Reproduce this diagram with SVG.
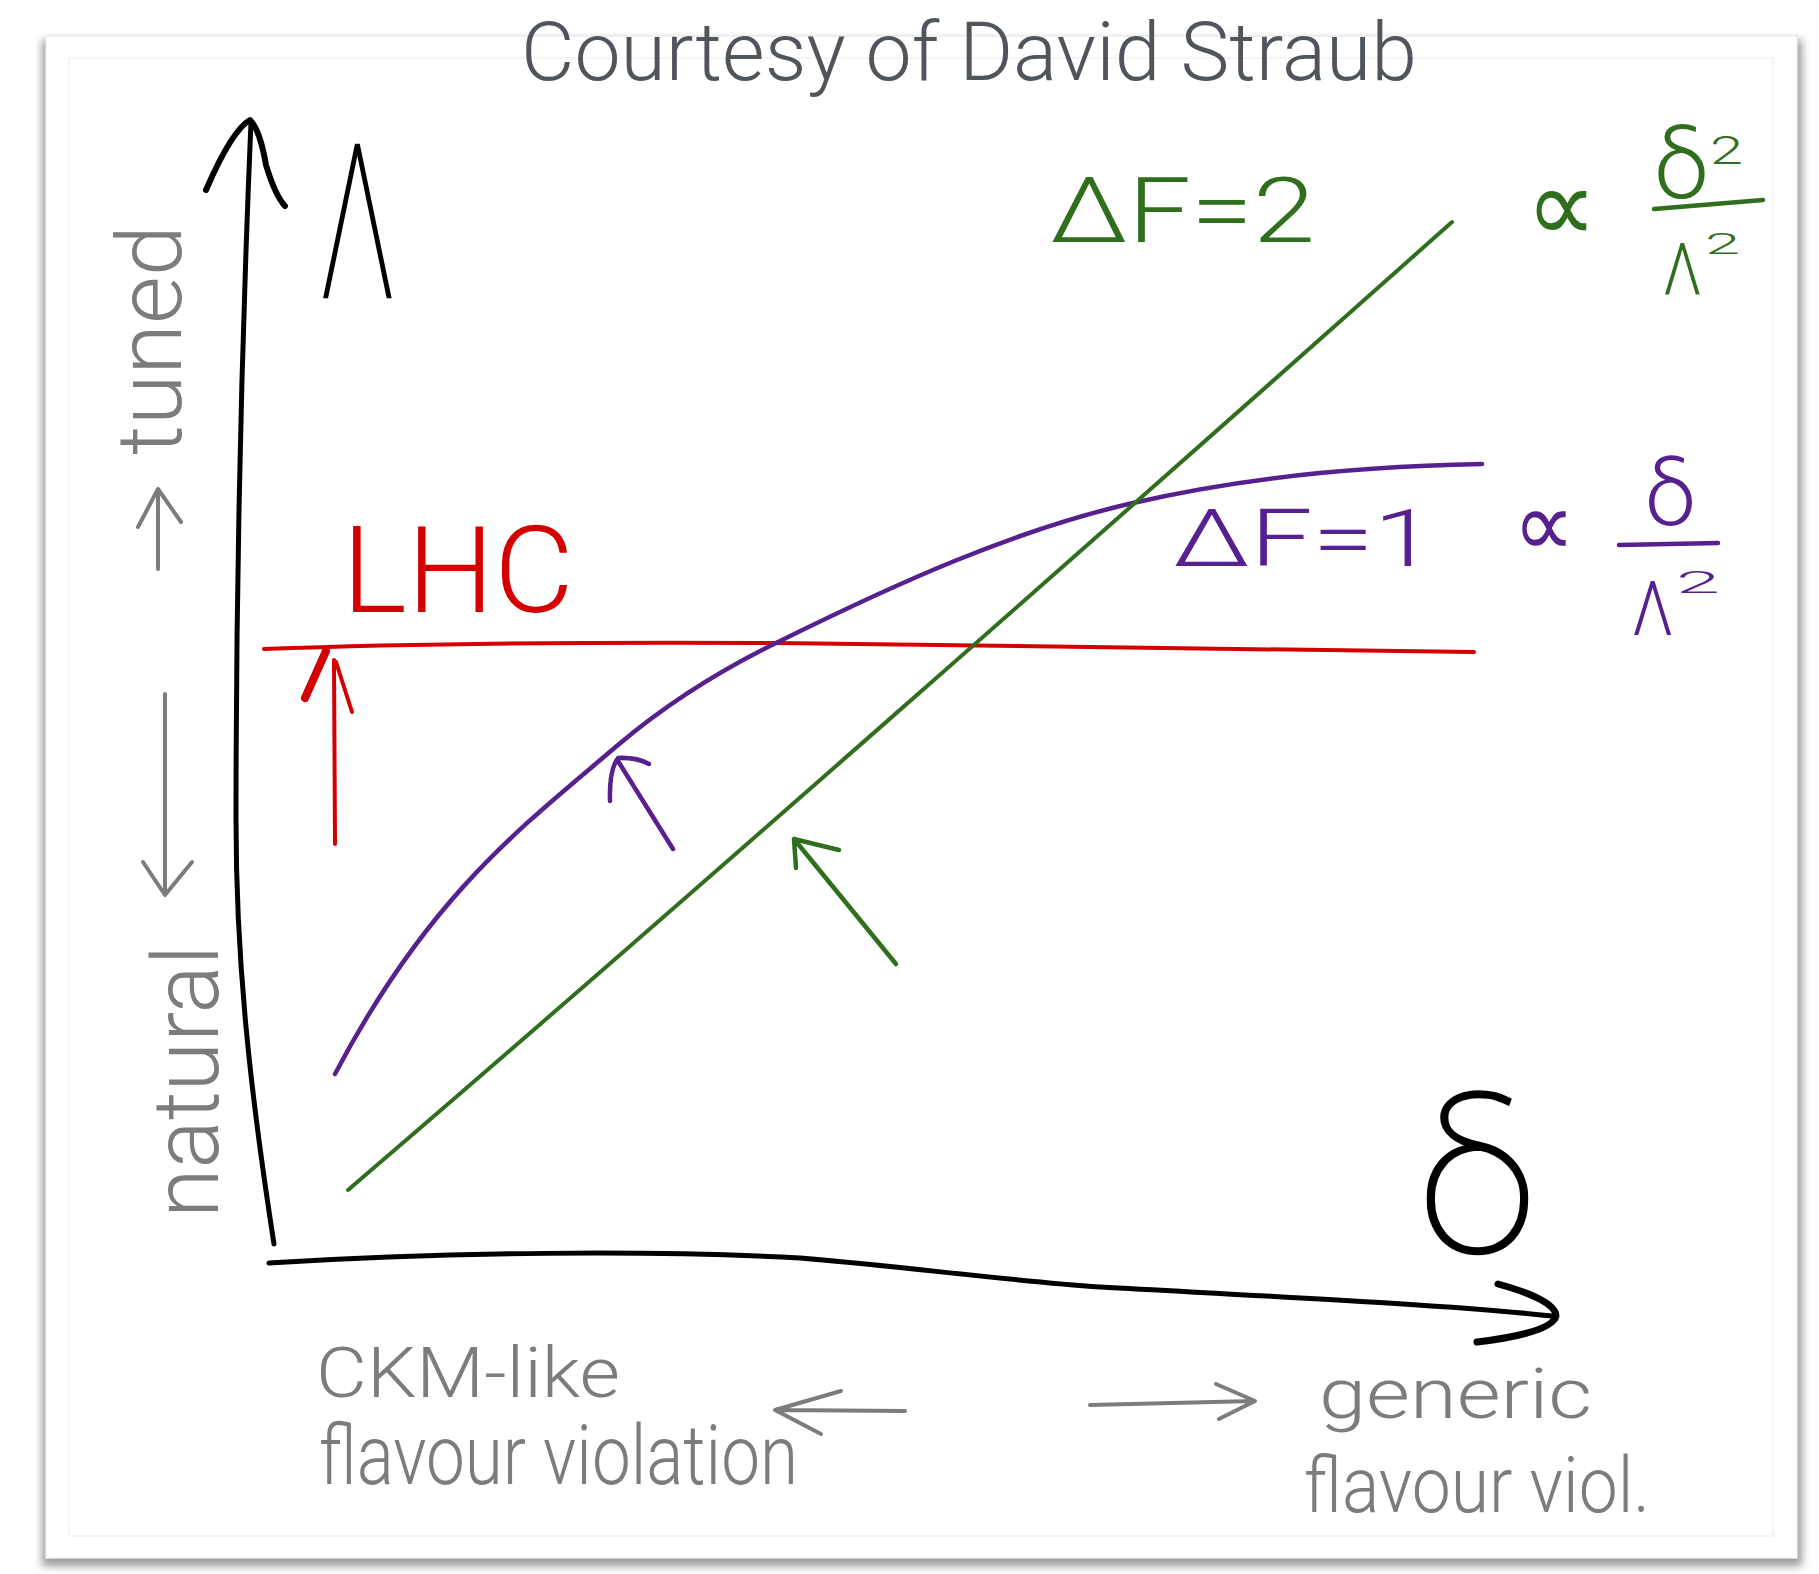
<svg xmlns="http://www.w3.org/2000/svg" width="1819" height="1574" viewBox="0 0 1819 1574">
<defs>
<filter id="sh" x="-5%" y="-5%" width="110%" height="110%"><feGaussianBlur stdDeviation="4"/></filter>
<style>
.t{font-family:Roboto,"DejaVu Sans",sans-serif;}
.sym{font-family:"DejaVu Sans",sans-serif;}
.thin{font-weight:100;}
.light{font-weight:300;}
.ln{fill:none;stroke-linecap:round;stroke-linejoin:round;}
.k{stroke:#000;}
.gr{stroke:#2f6e1c;}
.pu{stroke:#57208f;}
.rd{stroke:#d40000;}
.gy{stroke:#7c7c7c;}
.fg{fill:#2f6e1c;}
.fp{fill:#57208f;}
.fr{fill:#d40000;}
.fk{fill:#000;}
.fy{fill:#7c7c7c;}
</style>
</defs>
<rect width="1819" height="1574" fill="#fff"/>
<g id="frame">
<rect x="42" y="40" width="1760" height="1526" fill="#9a9a9a" filter="url(#sh)"/>
<rect x="46" y="36" width="1751" height="1522" fill="#fff" stroke="#ececec" stroke-width="1.5"/>
<rect x="69" y="58" width="1704" height="1478" fill="none" stroke="#f2f2f2" stroke-width="1.5"/>
</g>
<g id="title">
<text class="t light" x="521" y="80" font-size="82" fill="#50555c" textLength="896" lengthAdjust="spacingAndGlyphs">Courtesy of David Straub</text>
</g>
<g id="y-axis">
<path class="ln k" stroke-width="5" d="M274,1244 C250,1090 236,960 236,820 C236,620 240,380 251,122"/>
<path class="ln k" stroke-width="6" d="M206,190 Q232,130 250,120 Q260,130 266,165 Q275,195 285,206"/>
</g>
<g id="x-axis">
<path class="ln k" stroke-width="5" d="M269,1263 C450,1252 650,1250 800,1258 C900,1266 1000,1280 1100,1287 C1300,1298 1450,1305 1552,1316"/>
<path class="ln k" stroke-width="7" d="M1498,1284 Q1556,1300 1556,1316 Q1552,1333 1477,1342"/>
</g>
<g id="label-lambda">
<text class="t thin fk" stroke="#000" stroke-width="2.5" x="319" y="297" font-size="214" textLength="77" lengthAdjust="spacingAndGlyphs">Λ</text>
</g>
<g id="label-delta">
<text class="t thin fk" stroke="#000" stroke-width="2.5" x="1419" y="1252" font-size="210" textLength="117" lengthAdjust="spacingAndGlyphs">δ</text>
</g>
<g id="label-tuned">
<text class="t light fy" transform="translate(181,455) rotate(-90)" font-size="90" textLength="230" lengthAdjust="spacingAndGlyphs">tuned</text>
</g>
<g id="label-natural">
<text class="t light fy" transform="translate(218,1218) rotate(-90)" font-size="92" textLength="273" lengthAdjust="spacingAndGlyphs">natural</text>
</g>
<g id="lhc">
<path class="ln rd" stroke-width="4" d="M264,649 C400,644 600,642 776,643 C900,644 1100,648 1474,652"/>
<text class="t light fr" x="342" y="612" font-size="120" textLength="232" lengthAdjust="spacingAndGlyphs">LHC</text>
</g>
<g id="curve-df1">
<path class="ln pu" stroke-width="4.5" d="M335,1074 C429,895 524,825 618,745 C671,700 723,669 776,643 C895,584 1014,530 1133,503 C1249,476 1366,466 1482,464"/>
<text class="t light fp" x="1173" y="566" font-size="80" textLength="262" lengthAdjust="spacingAndGlyphs">ΔF=1</text>
<text class="sym fp" x="1513" y="556" font-size="92" textLength="62" lengthAdjust="spacingAndGlyphs">∝</text>
<text class="t light fp" x="1645" y="525" font-size="90" textLength="51" lengthAdjust="spacingAndGlyphs">δ</text>
<path class="ln pu" stroke-width="4.5" d="M1619,545 L1718,543"/>
<text class="t light fp" transform="translate(1632,635) scale(1,1.2)" font-size="64">Λ</text>
<text class="t light fp" x="1676" y="593" font-size="31" textLength="44" lengthAdjust="spacingAndGlyphs">2</text>
</g>
<g id="curve-df2">
<path class="ln gr" stroke-width="4" d="M348,1190 C640,940 1100,535 1452,222"/>
<text class="t light fg" x="1050" y="242" font-size="90" textLength="265" lengthAdjust="spacingAndGlyphs">ΔF=2</text>
<text class="sym fg" x="1526" y="242" font-size="105" textLength="71" lengthAdjust="spacingAndGlyphs">∝</text>
<text class="t light fg" font-size="96"><tspan x="1654" y="198" textLength="55" lengthAdjust="spacingAndGlyphs">δ</tspan><tspan x="1710" y="164" font-size="38" textLength="33" lengthAdjust="spacingAndGlyphs">2</tspan></text>
<path class="ln gr" stroke-width="4.5" d="M1654,209 L1763,200"/>
<text class="t light fg" transform="translate(1663,295) scale(1,1.2)" font-size="60">Λ</text>
<text class="t light fg" x="1705" y="254" font-size="30" textLength="35" lengthAdjust="spacingAndGlyphs">2</text>
</g>
<g id="x-labels">
<text class="t light fy" x="316" y="1397" font-size="70" textLength="304" lengthAdjust="spacingAndGlyphs">CKM-like</text>
<text class="t light fy" x="319" y="1484" font-size="84" textLength="479" lengthAdjust="spacingAndGlyphs">flavour violation</text>
<text class="t light fy" x="1319" y="1418" font-size="70" textLength="273" lengthAdjust="spacingAndGlyphs">generic</text>
<text class="t light fy" x="1304" y="1512" font-size="78" textLength="346" lengthAdjust="spacingAndGlyphs">flavour viol.</text>
</g>
<g id="connectors">
<path class="ln rd" stroke-width="4" d="M335,844 L334,660 M336,662 L352,712"/>
<path class="ln rd" stroke-width="8" d="M305,698 L326,651"/>
<path class="ln pu" stroke-width="4.5" d="M673,849 L618,761 M610,801 Q609,770 618,758 Q636,757 649,764"/>
<path class="ln gr" stroke-width="4.5" d="M896,964 L794,839 M796,868 L794,839 L839,850"/>
<path class="ln gy" stroke-width="4" d="M158,569 L158,489 M138,527 L158,489 L181,522"/>
<path class="ln gy" stroke-width="4" d="M165,694 L165,895 M143,862 L165,895 L192,862"/>
<path class="ln gy" stroke-width="4" d="M905,1411 L775,1410 M841,1391 L775,1410 L821,1434"/>
<path class="ln gy" stroke-width="4" d="M1090,1405 L1255,1401 M1216,1384 L1255,1401 L1219,1419"/>
</g>
</svg>
